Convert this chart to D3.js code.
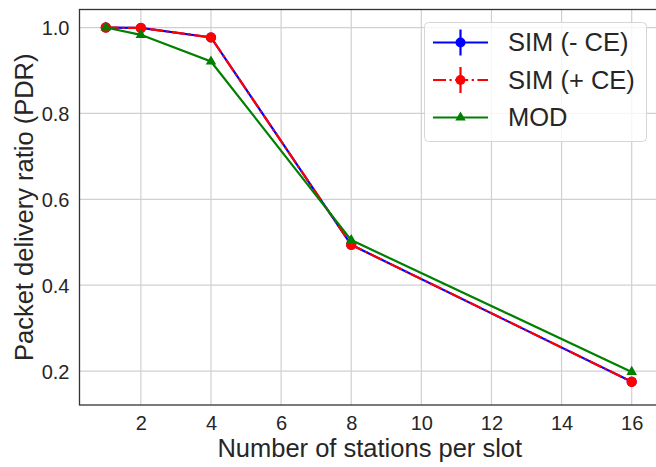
<!DOCTYPE html>
<html>
<head>
<meta charset="utf-8">
<script src="https://cdn.jsdelivr.net/npm/d3@7"></script>
<style>
  html, body { margin: 0; padding: 0; background: #fff; }
  svg { display: block; }
  text { font-family: "Liberation Sans", Arial, sans-serif; fill: #262626; }
</style>
</head>
<body>
<svg id="chart" width="656" height="467"></svg>
<script>
// Stations per slot and packet delivery ratios
const stations = [1, 2, 4, 8, 16];
const simNoCE = [1.000, 0.999, 0.977, 0.494, 0.175];
const simNoCEErr = [0.001, 0.001, 0.003, 0.004, 0.006];
const simCE = [1.000, 0.999, 0.977, 0.494, 0.175];
const simCEErr = [0.001, 0.001, 0.003, 0.004, 0.004];
const model = [1.000, 0.983, 0.921, 0.505, 0.198];

const xTicks = [2, 4, 6, 8, 10, 12, 14, 16];
const yTicks = [0.2, 0.4, 0.6, 0.8, 1.0];
const seriesNames = ["SIM (- CE)", "SIM (+ CE)", "MOD"];

const svg = d3.select("#chart");
const plot = { left: 79.5, right: 658, top: 9.5, bottom: 405 };

const x = d3.scaleLinear().domain([0.25, 16.75]).range([plot.left, plot.right]);
const y = d3.scaleLinear().domain([0.121, 1.042]).range([plot.bottom, plot.top]);

// grid
const grid = svg.append("g");
grid.selectAll("line.vx").data(xTicks).join("line")
  .attr("x1", d => x(d)).attr("x2", d => x(d))
  .attr("y1", plot.top).attr("y2", plot.bottom)
  .attr("stroke", "#d0d0d0").attr("stroke-width", 1.2);
grid.selectAll("line.hy").data(yTicks).join("line")
  .attr("x1", plot.left).attr("x2", plot.right)
  .attr("y1", d => y(d)).attr("y2", d => y(d))
  .attr("stroke", "#d0d0d0").attr("stroke-width", 1.2);

// axes
const xAxis = d3.axisBottom(x).tickValues(xTicks).tickFormat(d3.format("d")).tickSize(0).tickPadding(11);
const yAxis = d3.axisLeft(y).tickValues(yTicks).tickFormat(d3.format(".1f")).tickSize(0).tickPadding(10);

const gx = svg.append("g").attr("transform", `translate(0,${plot.bottom})`).call(xAxis);
gx.select(".domain").remove();
gx.selectAll("text").style("font-size", "20px").attr("fill", "#262626");

const gy = svg.append("g").attr("transform", `translate(${plot.left},0)`).call(yAxis);
gy.select(".domain").remove();
gy.selectAll("text").style("font-size", "20px").attr("fill", "#262626").attr("dy", "0.35em");

// frame
svg.append("rect")
  .attr("x", plot.left).attr("y", plot.top)
  .attr("width", plot.right - plot.left).attr("height", plot.bottom - plot.top)
  .attr("fill", "none").attr("stroke", "#333").attr("stroke-width", 1.3);

// axis titles
svg.append("text")
  .attr("x", (plot.left + 656) / 2 + 2).attr("y", 457)
  .attr("text-anchor", "middle").style("font-size", "25.5px")
  .text("Number of stations per slot");
svg.append("text")
  .attr("transform", `translate(33,${(plot.top + plot.bottom) / 2}) rotate(-90)`)
  .attr("text-anchor", "middle").style("font-size", "25.5px")
  .text("Packet delivery ratio (PDR)");

const line = d3.line().x(d => x(d[0])).y(d => y(d[1]));
const pts = vals => stations.map((s, i) => [s, vals[i]]);
const marks = svg.append("g");

// SIM without capture effect
marks.append("path").datum(pts(simNoCE)).attr("d", line)
  .attr("fill", "none").attr("stroke", "#0000ff").attr("stroke-width", 2.2);
marks.selectAll("line.eb1").data(stations).join("line")
  .attr("x1", d => x(d)).attr("x2", d => x(d))
  .attr("y1", (d, i) => y(simNoCE[i] - simNoCEErr[i])).attr("y2", (d, i) => y(simNoCE[i] + simNoCEErr[i]))
  .attr("stroke", "#0000ff").attr("stroke-width", 2.2);
marks.selectAll("circle.m1").data(stations).join("circle")
  .attr("cx", d => x(d)).attr("cy", (d, i) => y(simNoCE[i])).attr("r", 5)
  .attr("fill", "#0000ff");

// SIM with capture effect
marks.append("path").datum(pts(simCE)).attr("d", line)
  .attr("fill", "none").attr("stroke", "#ff0000").attr("stroke-width", 2.2)
  .attr("stroke-dasharray", "13,3.5,2.2,3.5");
marks.selectAll("line.eb2").data(stations).join("line")
  .attr("x1", d => x(d)).attr("x2", d => x(d))
  .attr("y1", (d, i) => y(simCE[i] - simCEErr[i])).attr("y2", (d, i) => y(simCE[i] + simCEErr[i]))
  .attr("stroke", "#ff0000").attr("stroke-width", 2.2);
marks.selectAll("circle.m2").data(stations).join("circle")
  .attr("cx", d => x(d)).attr("cy", (d, i) => y(simCE[i])).attr("r", 5.2)
  .attr("fill", "#ff0000");

// analytical model
marks.append("path").datum(pts(model)).attr("d", line)
  .attr("fill", "none").attr("stroke", "#008000").attr("stroke-width", 2.2);
const tri = d3.symbol().type(d3.symbolTriangle).size(48);
marks.selectAll("path.m3").data(stations).join("path")
  .attr("d", tri)
  .attr("transform", (d, i) => `translate(${x(d)},${y(model[i])})`)
  .attr("fill", "#008000");

// legend
const lg = svg.append("g");
lg.append("rect")
  .attr("x", 424.5).attr("y", 22.5).attr("width", 222).attr("height", 119).attr("rx", 4)
  .attr("fill", "#fff").attr("fill-opacity", 0.8)
  .attr("stroke", "#d6d6d6").attr("stroke-width", 1);

const legendRows = [
  { name: seriesNames[0], color: "#0000ff", dash: null, marker: "circle", err: true },
  { name: seriesNames[1], color: "#ff0000", dash: "13,3.5,2.2,3.5", marker: "circle", err: true },
  { name: seriesNames[2], color: "#008000", dash: null, marker: "triangle", err: false }
];
legendRows.forEach((r, i) => {
  const cy = 42.5 + i * 37.5;
  const g = lg.append("g");
  g.append("line").attr("x1", 433).attr("x2", 488).attr("y1", cy).attr("y2", cy)
    .attr("stroke", r.color).attr("stroke-width", 2.2)
    .attr("stroke-dasharray", r.dash);
  if (r.err) {
    g.append("line").attr("x1", 460.5).attr("x2", 460.5).attr("y1", cy - 13).attr("y2", cy + 13)
      .attr("stroke", r.color).attr("stroke-width", 2.2);
  }
  if (r.marker === "circle") {
    g.append("circle").attr("cx", 460.5).attr("cy", cy).attr("r", 5).attr("fill", r.color);
  } else {
    g.append("path").attr("d", tri).attr("transform", `translate(460.5,${cy})`).attr("fill", r.color);
  }
  g.append("text").attr("x", 508).attr("y", cy).attr("dy", "0.35em")
    .style("font-size", "25.5px").text(r.name);
});
</script>
</body>
</html>
